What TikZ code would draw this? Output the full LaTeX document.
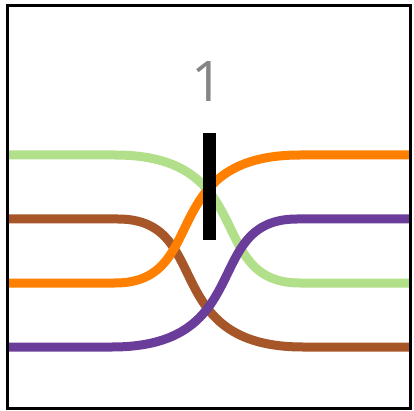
\documentclass[tikz,border=0pt]{standalone}
\usepackage{fontspec}
\newfontfamily\labelfont{Open Sans}
\definecolor{wgreen}{HTML}{B2DF8A}
\definecolor{worange}{HTML}{FF7F00}
\definecolor{wpurple}{HTML}{6A3D9A}
\definecolor{wbrown}{HTML}{A65628}
\definecolor{lblgray}{HTML}{858585}
\begin{document}
\begin{tikzpicture}[x=1pt,y=-1pt,
  wire/.style={line width=9pt},
  frame/.style={draw=black,line width=3pt},
  barstyle/.style={fill=black,draw=none},
  lbl/.style={text=lblgray,font=\labelfont\fontsize{56}{60}\selectfont,inner sep=0pt,anchor=base}]
\useasboundingbox (0,0) rectangle (414,411);
% wire end points
\coordinate (gL) at (7,155);   \coordinate (gA) at (115,155);
\coordinate (gB) at (300,283); \coordinate (gR) at (410,283);
\coordinate (bL) at (7,219);   \coordinate (bA) at (118,219);
\coordinate (bB) at (303,347); \coordinate (bR) at (410,347);
\coordinate (oL) at (7,283);   \coordinate (oA) at (115,283);
\coordinate (oB) at (300,155); \coordinate (oR) at (410,155);
\coordinate (pL) at (7,347);   \coordinate (pA) at (112,347);
\coordinate (pB) at (297,219); \coordinate (pR) at (410,219);
% wires
\draw[wire,wbrown] (bL) -- (bA) .. controls (214,219) and (158,347) .. (bB) -- (bR);
\draw[wire,wgreen] (gL) -- (gA) .. controls (260,155) and (204,283) .. (gB) -- (gR);
\draw[wire,worange] (oL) -- (oA) .. controls (211,283) and (155,155) .. (oB) -- (oR);
\draw[wire,wpurple] (pL) -- (pA) .. controls (257,347) and (201,219) .. (pB) -- (pR);
% crossing bar and label
\node[barstyle,minimum width=13pt,minimum height=107pt,inner sep=0pt] (bar) at (209.5,186.5) {};
\node[lbl] (lab) at (208,102) {1};
% frame
\draw[frame] (7,6) rectangle (410,408);
\end{tikzpicture}
\end{document}
